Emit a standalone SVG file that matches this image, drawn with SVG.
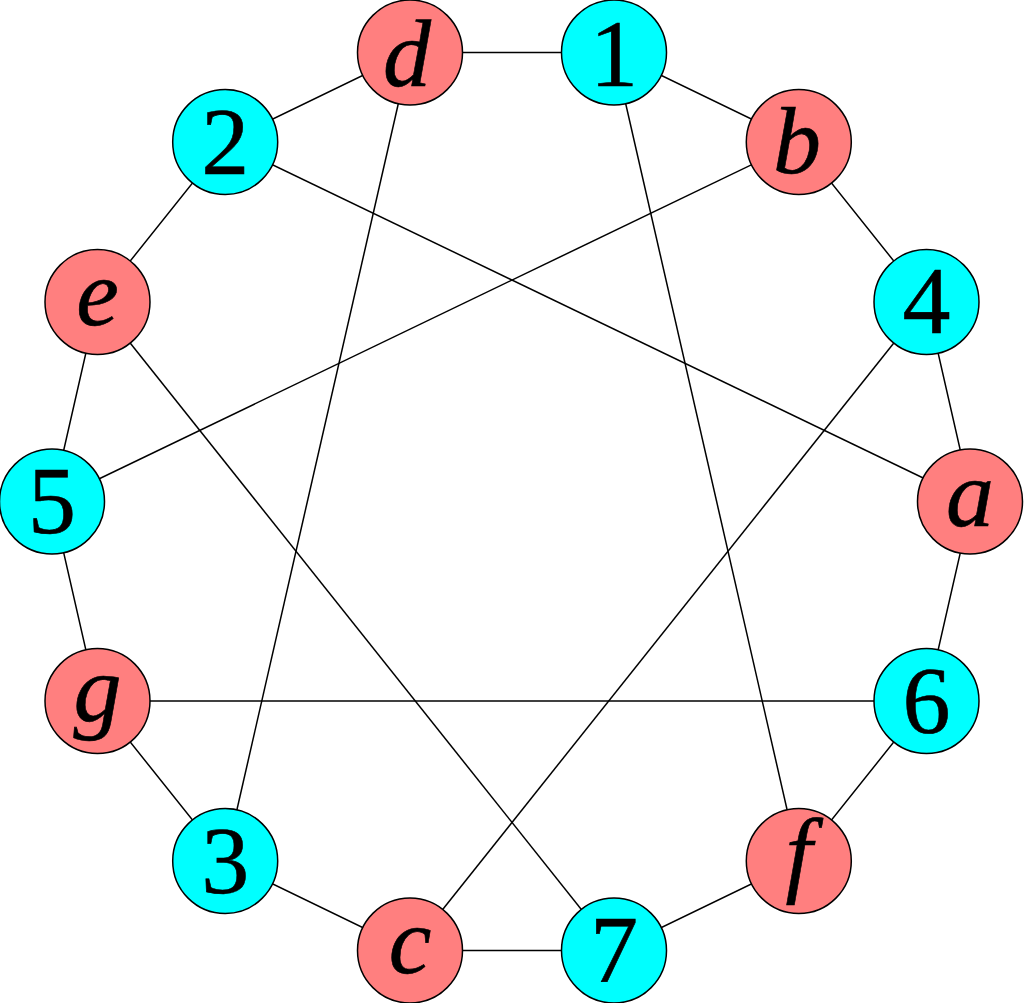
<svg xmlns="http://www.w3.org/2000/svg" width="1024" height="1003" viewBox="0 0 1024 1003">
<style>
.e{stroke:#000;stroke-width:1.5;fill:none}
.r{fill:#FF7F7F;stroke:#000;stroke-width:1.5}
.c{fill:#00FFFF;stroke:#000;stroke-width:1.5}
.t{font-family:"Liberation Serif","DejaVu Serif",serif;font-size:96px;text-anchor:middle;fill:#000;stroke:#000;stroke-width:0.6}
.i{font-style:italic}
</style>
<rect width="1024" height="1003" fill="#fff"/>
<g id="edges" class="e">
<path d="M410,52.5L614,52.5L798.8,142L926.5,302L972,501.5L926.5,701L798.8,861L614,950.5L410,950.5L225.2,861L97.5,701L52,501.5L97.5,302L225.2,142Z"/>
<line x1="410" y1="52.5" x2="225.2" y2="861"/>
<line x1="614" y1="52.5" x2="798.8" y2="861"/>
<line x1="225.2" y1="142" x2="972" y2="501.5"/>
<line x1="798.8" y1="142" x2="52" y2="501.5"/>
<line x1="97.5" y1="302" x2="614" y2="950.5"/>
<line x1="926.5" y1="302" x2="410" y2="950.5"/>
<line x1="97.5" y1="701" x2="926.5" y2="701"/>
</g>
<g id="node-d"><circle class="r" cx="410" cy="52.5" r="52.5"/><text class="t i" x="407" y="86">d</text></g>
<g id="node-1"><circle class="c" cx="614" cy="52.5" r="52.5"/><text class="t" x="614" y="86">1</text></g>
<g id="node-b"><circle class="r" cx="798.8" cy="142" r="52.5"/><text class="t i" x="797" y="173">b</text></g>
<g id="node-4"><circle class="c" cx="926.5" cy="302" r="52.5"/><text class="t" x="926.5" y="333">4</text></g>
<g id="node-a"><circle class="r" cx="970" cy="501.5" r="52.5"/><text class="t i" x="970" y="526">a</text></g>
<g id="node-6"><circle class="c" cx="926.5" cy="701" r="52.5"/><text class="t" x="926.5" y="733">6</text></g>
<g id="node-f"><circle class="r" cx="798.8" cy="861" r="52.5"/><text class="t i" x="798.8" y="885">f</text></g>
<g id="node-7"><circle class="c" cx="614" cy="950.5" r="52.5"/><text class="t" x="614" y="982">7</text></g>
<g id="node-c"><circle class="r" cx="410" cy="950.5" r="52.5"/><text class="t i" x="410" y="973">c</text></g>
<g id="node-3"><circle class="c" cx="225.2" cy="861" r="52.5"/><text class="t" x="225.2" y="893">3</text></g>
<g id="node-g"><circle class="r" cx="97.5" cy="701" r="52.5"/><text class="t i" x="97.5" y="721">g</text></g>
<g id="node-5"><circle class="c" cx="52" cy="501.5" r="52.5"/><text class="t" x="52" y="533">5</text></g>
<g id="node-e"><circle class="r" cx="97.5" cy="302" r="52.5"/><text class="t i" x="97.5" y="325">e</text></g>
<g id="node-2"><circle class="c" cx="225.2" cy="142" r="52.5"/><text class="t" x="225.2" y="174">2</text></g>
</svg>
